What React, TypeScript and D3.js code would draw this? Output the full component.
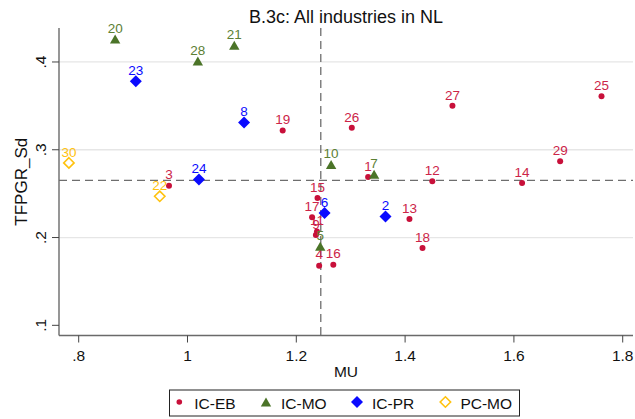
import React from "react";
import * as d3 from "d3";

// ---- Data ----
const ebLabels = ["1", "3", "4", "9", "11", "12", "13", "14", "15", "16", "17", "18", "19", "25", "26", "27", "29"];
const ebMU = [1.332, 0.966, 1.242, 1.236, 1.238, 1.45, 1.408, 1.615, 1.239, 1.268, 1.229, 1.432, 1.175, 1.761, 1.302, 1.487, 1.685];
const ebTFP = [0.269, 0.259, 0.168, 0.203, 0.207, 0.264, 0.221, 0.262, 0.245, 0.169, 0.223, 0.188, 0.322, 0.361, 0.325, 0.35, 0.287];

const moLabels = ["5", "7", "10", "20", "21", "28"];
const moMU = [1.244, 1.343, 1.264, 0.867, 1.086, 1.019];
const moTFP = [0.19, 0.272, 0.283, 0.426, 0.419, 0.401];

const prLabels = ["2", "6", "8", "23", "24"];
const prMU = [1.364, 1.252, 1.104, 0.905, 1.021];
const prTFP = [0.224, 0.228, 0.331, 0.378, 0.266];

const pcLabels = ["22", "30"];
const pcMU = [0.949, 0.782];
const pcTFP = [0.247, 0.285];

const meanMU = 1.245;
const meanTFP = 0.2652;

const xTicks = [0.8, 1, 1.2, 1.4, 1.6, 1.8];
const xTickLabels = [".8", "1", "1.2", "1.4", "1.6", "1.8"];
const yTicks = [0.1, 0.2, 0.3, 0.4];
const yTickLabels = [".1", ".2", ".3", ".4"];
const yGrid = [0.2, 0.3, 0.4];

const legendNames = ["IC-EB", "IC-MO", "IC-PR", "PC-MO"];

// ---- Layout ----
const W = 635;
const H = 419;
const left = 59;
const right = 633;
const top = 28;
const bottom = 335.5;

const FONT = "Liberation Sans, Arial, Helvetica, sans-serif";

const C_EB = "#c8103a";
const C_EB_L = "#cc2448";
const C_MO = "#4b7428";
const C_MO_L = "#5c8034";
const C_PR = "#0a0aff";
const C_PC = "#ffc20e";

const x = d3.scaleLinear().domain([0.7638, 1.8189]).range([left, right]);
const y = d3.scaleLinear().domain([0.0884, 0.4387]).range([bottom, top]);

function tri(cx: number, cy: number) {
  const p = d3.path();
  p.moveTo(cx, cy - 4.6);
  p.lineTo(cx + 5.2, cy + 4.4);
  p.lineTo(cx - 5.2, cy + 4.4);
  p.closePath();
  return p.toString();
}
function diamond(cx: number, cy: number, r: number) {
  const p = d3.path();
  p.moveTo(cx, cy - r);
  p.lineTo(cx + r, cy);
  p.lineTo(cx, cy + r);
  p.lineTo(cx - r, cy);
  p.closePath();
  return p.toString();
}

function Label({ cx, cy, text, color }: { cx: number; cy: number; text: string; color: string }) {
  return (
    <text x={cx} y={cy - 6.3} textAnchor="middle" fontSize={13.5} fill={color} fontFamily={FONT}>
      {text}
    </text>
  );
}

export default function App() {
  const legendX = [179.3, 266, 357, 445.4];
  const legendY = 403;
  return (
    <svg
      width={W}
      height={H}
      viewBox={`0 0 ${W} ${H}`}
      style={{ position: "absolute", left: 0, top: 0, background: "#fff" }}
    >
      <rect x={0} y={0} width={W} height={H} fill="#fff" />
      {/* gridlines */}
      {yGrid.map((v) => (
        <line key={"g" + v} x1={left} x2={right} y1={y(v)} y2={y(v)} stroke="#e6e6e6" strokeWidth={1.3} />
      ))}
      {/* reference lines */}
      <line x1={x(meanMU)} x2={x(meanMU)} y1={top} y2={bottom} stroke="#6e6e6e" strokeWidth={1.3} strokeDasharray="8,5" />
      <line x1={left} x2={right} y1={y(meanTFP)} y2={y(meanTFP)} stroke="#6e6e6e" strokeWidth={1.3} strokeDasharray="8,5" />
      {/* axes */}
      <line x1={left} x2={left} y1={top} y2={bottom} stroke="#6a6a6a" strokeWidth={1.4} />
      <line x1={left} x2={right} y1={bottom} y2={bottom} stroke="#6a6a6a" strokeWidth={1.4} />
      {xTicks.map((v, i) => (
        <g key={"xt" + v}>
          <line x1={x(v)} x2={x(v)} y1={bottom} y2={bottom + 7} stroke="#444" strokeWidth={1} />
          <text x={x(v)} y={361} textAnchor="middle" fontSize={15.5} fontFamily={FONT} fill="#111">
            {xTickLabels[i]}
          </text>
        </g>
      ))}
      {yTicks.map((v, i) => (
        <g key={"yt" + v}>
          <line x1={left - 7} x2={left} y1={y(v)} y2={y(v)} stroke="#444" strokeWidth={1} />
          <text
            transform={`translate(46,${y(v)}) rotate(-90)`}
            textAnchor="middle"
            fontSize={15.5}
            fontFamily={FONT}
            fill="#111"
          >
            {yTickLabels[i]}
          </text>
        </g>
      ))}
      {/* axis titles */}
      <text x={(left + right) / 2} y={377} textAnchor="middle" fontSize={15.5} fontFamily={FONT} fill="#111">
        MU
      </text>
      <text
        transform={`translate(27,${(top + bottom) / 2}) rotate(-90)`}
        textAnchor="middle"
        fontSize={17}
        fontFamily={FONT}
        fill="#111"
      >
        TFPGR_Sd
      </text>
      {/* title */}
      <text x={(left + right) / 2} y={23} textAnchor="middle" fontSize={18} fontFamily={FONT} fill="#111">
        B.3c: All industries in NL
      </text>

      {/* IC-EB */}
      {ebLabels.map((l, i) => (
        <g key={"eb" + l}>
          <circle cx={x(ebMU[i])} cy={y(ebTFP[i])} r={3} fill={C_EB} />
          <Label cx={x(ebMU[i])} cy={y(ebTFP[i])} text={l} color={C_EB_L} />
        </g>
      ))}
      {/* IC-MO */}
      {moLabels.map((l, i) => (
        <g key={"mo" + l}>
          <path d={tri(x(moMU[i]), y(moTFP[i]))} fill={C_MO} />
          <Label cx={x(moMU[i])} cy={y(moTFP[i])} text={l} color={C_MO_L} />
        </g>
      ))}
      {/* IC-PR */}
      {prLabels.map((l, i) => (
        <g key={"pr" + l}>
          <path d={diamond(x(prMU[i]), y(prTFP[i]), 6)} fill={C_PR} />
          <Label cx={x(prMU[i])} cy={y(prTFP[i])} text={l} color={C_PR} />
        </g>
      ))}
      {/* PC-MO */}
      {pcLabels.map((l, i) => (
        <g key={"pc" + l}>
          <path d={diamond(x(pcMU[i]), y(pcTFP[i]), 5.2)} fill="none" stroke={C_PC} strokeWidth={1.6} />
          <Label cx={x(pcMU[i])} cy={y(pcTFP[i])} text={l} color={C_PC} />
        </g>
      ))}

      {/* legend */}
      <rect x={169.5} y={390} width={350} height={26} fill="#fff" stroke="#222" strokeWidth={1} />
      <circle cx={legendX[0]} cy={legendY - 1} r={2.8} fill={C_EB} />
      <path d={tri(legendX[1], legendY - 1)} fill={C_MO} />
      <path d={diamond(legendX[2], legendY - 1, 6)} fill={C_PR} />
      <path d={diamond(legendX[3], legendY - 1, 5.2)} fill="none" stroke={C_PC} strokeWidth={1.6} />
      {legendNames.map((n, i) => (
        <text key={n} x={legendX[i] + 15} y={409} fontSize={15.5} fontFamily={FONT} fill="#111">
          {n}
        </text>
      ))}
    </svg>
  );
}
